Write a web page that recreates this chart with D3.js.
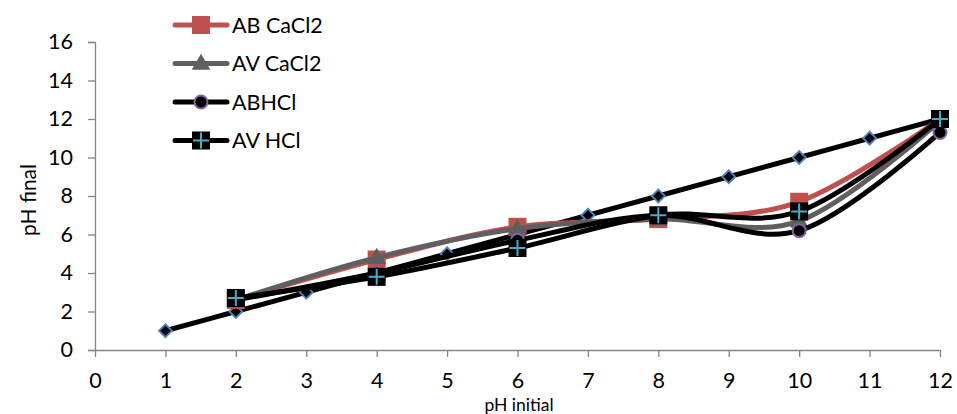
<!DOCTYPE html>
<html>
<head>
<meta charset="utf-8">
<script src="https://cdn.jsdelivr.net/npm/d3@7/dist/d3.min.js"></script>
<style>
  html, body { margin: 0; padding: 0; background: #fff; }
  svg text { font-family: Lato, "Open Sans", "Liberation Sans", sans-serif; fill: #000; }
</style>
</head>
<body>
<svg id="chart" width="957" height="414"></svg>
<script>
// pH measurements: initial vs final
const phInitial = [2, 4, 6, 8, 10, 12];
const abCaCl2 = [2.6, 4.7, 6.4, 6.8, 7.7, 12.0];
const avCaCl2 = [2.6, 4.8, 6.3, 6.8, 6.7, 11.9];
const abHCl   = [2.6, 4.0, 5.7, 7.0, 6.2, 11.3];
const avHCl   = [2.7, 3.8, 5.3, 7.0, 7.2, 12.0];
// reference line: final equals initial
const refX = [1, 2, 3, 4, 5, 6, 7, 8, 9, 10, 11, 12];
const refY = [1, 2, 3, 4, 5, 6, 7, 8, 9, 10, 11, 12];
const seriesNames = ["AB CaCl2", "AV CaCl2", "ABHCl", "AV HCl"];
const xTicks = [0, 1, 2, 3, 4, 5, 6, 7, 8, 9, 10, 11, 12];
const yTicks = [0, 2, 4, 6, 8, 10, 12, 14, 16];

const svg = d3.select("#chart");
const x = d3.scaleLinear().domain([0, 12]).range([95, 940]);
const y = d3.scaleLinear().domain([0, 16]).range([350, 42]);
const axisColor = "#868686";

// y axis
const gy = svg.append("g").attr("transform", "translate(95,0)")
  .call(d3.axisLeft(y).tickValues(yTicks).tickSize(7).tickPadding(15).tickFormat(d3.format("d")));
gy.select(".domain").attr("stroke", axisColor).attr("stroke-width", 1.3);
gy.selectAll(".tick line").attr("stroke", axisColor).attr("stroke-width", 1.3);
gy.selectAll(".tick text").style("font-size", "21.5px");

// x axis
const gx = svg.append("g").attr("transform", "translate(0,350)")
  .call(d3.axisBottom(x).tickValues(xTicks).tickSize(7).tickSizeOuter(0).tickPadding(0).tickFormat(d3.format("d")));
gx.select(".domain").attr("stroke", axisColor).attr("stroke-width", 1.3);
gx.selectAll(".tick line").attr("stroke", axisColor).attr("stroke-width", 1.3);
gx.selectAll(".tick text").style("font-size", "21.5px")
  .attr("y", 38).attr("dy", 0);

// axis titles
svg.append("text").attr("transform", "translate(36,200) rotate(-90)")
  .attr("text-anchor", "middle").style("font-size", "21px").text("pH final");
svg.append("text").attr("x", 519).attr("y", 410.5)
  .attr("text-anchor", "middle").style("font-size", "17.5px").text("pH initial");

const line = d3.line().x(d => x(d[0])).y(d => y(d[1])).curve(d3.curveCardinal.tension(0));

function marker(g, type, cx, cy) {
  if (type === "square") {
    g.append("rect").attr("x", cx - 9).attr("y", cy - 9).attr("width", 18).attr("height", 18)
      .attr("fill", "#C0504D");
  } else if (type === "triangle") {
    g.append("path").attr("d", d3.symbol(d3.symbolTriangle, 150)())
      .attr("transform", `translate(${cx},${cy + 1})`).attr("fill", "#5F5F5F");
  } else if (type === "circle") {
    g.append("circle").attr("cx", cx).attr("cy", cy).attr("r", 6.5)
      .attr("fill", "#000").attr("stroke", "#8064A2").attr("stroke-width", 2);
  } else if (type === "plus") {
    g.append("rect").attr("x", cx - 9).attr("y", cy - 9).attr("width", 18).attr("height", 18)
      .attr("fill", "#000");
    g.append("path").attr("d", `M${cx - 8},${cy}H${cx + 8}M${cx},${cy - 8}V${cy + 8}`)
      .attr("stroke", "#4BACC6").attr("stroke-width", 2);
  } else if (type === "diamond") {
    g.append("path").attr("d", `M${cx},${cy - 6.5}L${cx + 6.5},${cy}L${cx},${cy + 6.5}L${cx - 6.5},${cy}Z`)
      .attr("fill", "#000").attr("stroke", "#4F81BD").attr("stroke-width", 1.8);
  }
}

const plot = svg.append("g");

// reference series drawn first
const refPts = refX.map((v, i) => [v, refY[i]]);
plot.append("path").attr("d", line(refPts)).attr("fill", "none")
  .attr("stroke", "#000").attr("stroke-width", 5);
refPts.forEach(p => marker(plot, "diamond", x(p[0]), y(p[1])));

const series = [
  { name: seriesNames[0], vals: abCaCl2, color: "#C0504D", m: "square" },
  { name: seriesNames[1], vals: avCaCl2, color: "#5F5F5F", m: "triangle" },
  { name: seriesNames[2], vals: abHCl, color: "#000", m: "circle" },
  { name: seriesNames[3], vals: avHCl, color: "#000", m: "plus" }
];

series.forEach(s => {
  const pts = phInitial.map((v, i) => [v, s.vals[i]]);
  const g = plot.append("g");
  g.append("path").attr("d", line(pts)).attr("fill", "none")
    .attr("stroke", s.color).attr("stroke-width", 5).attr("stroke-linecap", "round");
  pts.forEach(p => marker(g, s.m, x(p[0]), y(p[1])));
});

// legend
const legend = svg.append("g");
series.forEach((s, i) => {
  const ly = 25 + i * 38.5;
  legend.append("line").attr("x1", 175).attr("x2", 227).attr("y1", ly).attr("y2", ly)
    .attr("stroke", s.color).attr("stroke-width", 5).attr("stroke-linecap", "round");
  marker(legend, s.m, 201, ly);
  legend.append("text").attr("x", 232).attr("y", ly + 7.5).style("font-size", "21.5px").text(s.name);
});
</script>
</body>
</html>
